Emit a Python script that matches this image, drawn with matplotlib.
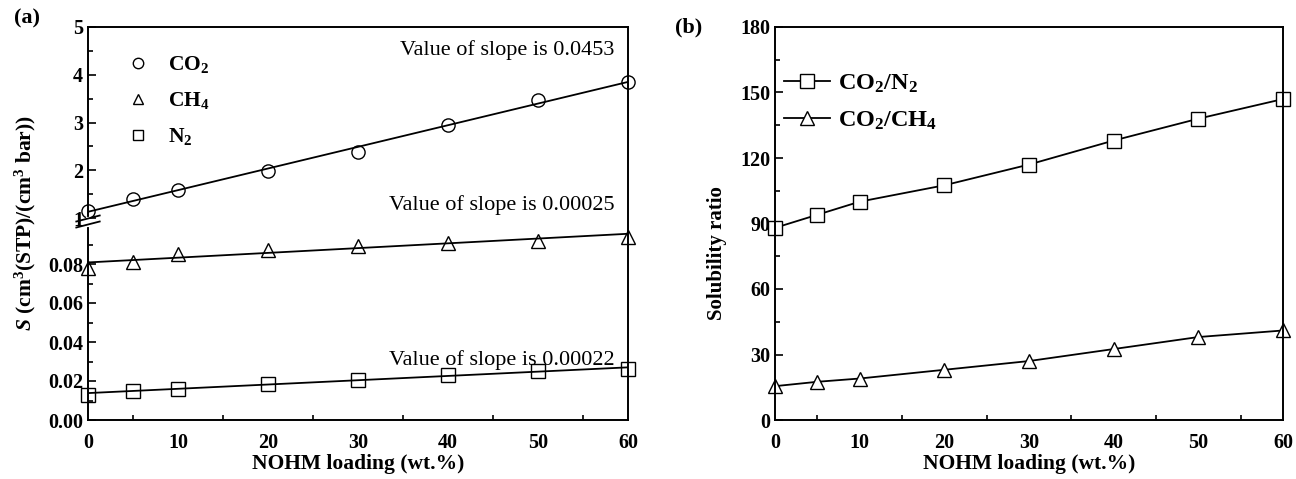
import numpy as np
import matplotlib
matplotlib.use("Agg")
import matplotlib.pyplot as plt
from matplotlib.scale import FuncScale
from matplotlib.ticker import FixedLocator, FixedFormatter
from matplotlib.lines import Line2D

plt.rcParams['font.family'] = ['Liberation Serif']
plt.rcParams['mathtext.fontset'] = 'custom'
plt.rcParams['mathtext.rm'] = 'Liberation Serif:bold'
plt.rcParams['mathtext.bf'] = 'Liberation Serif:bold'
plt.rcParams['mathtext.it'] = 'Liberation Serif:italic:bold'

# ---- data ----
loading = [0, 5, 10, 20, 30, 40, 50, 60]
s_co2 = [1.14, 1.39, 1.58, 1.99, 2.38, 2.95, 3.48, 3.85]
s_ch4 = [0.078, 0.081, 0.085, 0.087, 0.089, 0.091, 0.092, 0.094]
s_n2 = [0.0130, 0.0148, 0.0160, 0.0184, 0.0204, 0.0230, 0.0252, 0.0262]
fit_co2 = [1.13, 3.85]
fit_ch4 = [0.0808, 0.0955]
fit_n2 = [0.0138, 0.0270]
fit_x = [0, 60]
ratio_co2_n2 = [88, 94, 100, 107.5, 117, 128, 138, 147]
ratio_co2_ch4 = [15.5, 17.5, 19, 23, 27, 32.5, 38, 41]
slope_texts = ["Value of slope is 0.0453", "Value of slope is 0.00025", "Value of slope is 0.00022"]

fig = plt.figure(figsize=(12.96, 4.79), dpi=100)

# piecewise broken scale for left panel
ybreak_v = [0.0, 0.1, 1.0, 5.0]
ybreak_p = [0.0, 195.0, 202.0, 393.0]
def fwd(y):
    return np.interp(y, ybreak_v, ybreak_p)
def inv(p):
    return np.interp(p, ybreak_p, ybreak_v)

ax1 = fig.add_axes([88/1296, 1-420/479, 540/1296, 393/479])
ax1.set_yscale(FuncScale(ax1, (fwd, inv)))
ax1.set_xlim(0, 60)
ax1.set_ylim(0, 5)

mk = dict(markersize=9.5, markerfacecolor='none', markeredgecolor='black', markeredgewidth=1.0, linestyle='none')
ax1.plot(loading, s_co2, marker='o', clip_on=False, **mk)
ax1.plot(loading, s_ch4, marker='^', clip_on=False, **mk)
ax1.plot(loading, s_n2, marker='s', clip_on=False, **mk)
for fy in (fit_co2, fit_ch4, fit_n2):
    ax1.plot(fit_x, fy, color='black', lw=1.3)

ax1.yaxis.set_major_locator(FixedLocator([0, 0.02, 0.04, 0.06, 0.08, 1, 2, 3, 4, 5]))
ax1.yaxis.set_major_formatter(FixedFormatter(['0.00', '0.02', '0.04', '0.06', '0.08', '1', '2', '3', '4', '5']))
ax1.yaxis.set_minor_locator(FixedLocator([0.01, 0.03, 0.05, 0.07, 0.09, 1.5, 2.5, 3.5, 4.5]))
ax1.set_xticks([0, 10, 20, 30, 40, 50, 60])
ax1.set_xticks([5, 15, 25, 35, 45, 55], minor=True)

ax1.set_xlabel('NOHM loading (wt.%)', fontsize=15.5, fontweight='bold', labelpad=1)
ax1.set_ylabel(r'$S$ (cm$^3$(STP)/(cm$^3$ bar))', fontsize=15.5, fontweight='bold')
ax1.yaxis.set_label_coords(-0.093, 0.50)

for t, yv in zip(slope_texts, [4.52, 1.27, 0.031]):
    ax1.text(58.5, yv, t, ha='right', va='center', fontsize=16)

# legend (markers only)
lmk = dict(mk)
lmk['markersize'] = 7.5
handles = [Line2D([], [], marker=m, **lmk) for m in ('o', '^', 's')]
ax1.legend(handles, [r'CO$_2$', r'CH$_4$', r'N$_2$'], loc='upper left', bbox_to_anchor=(0.025, 0.98),
           frameon=False, handlelength=1.6, handletextpad=0.6, labelspacing=0.7,
           prop={'weight': 'bold', 'size': 15.5})

# break marks on left spine
p_mid = fwd(0.55)
ax1.plot([0, 0], [inv(p_mid - 3), inv(p_mid + 3)], color='white', lw=3, clip_on=False, zorder=5)
for off in (-3.0, 3.0):
    ax1.plot([-1.3, 1.3], [inv(p_mid + off - 3), inv(p_mid + off + 3)], color='black', lw=1.3,
             clip_on=False, zorder=6)

fig.text(14/1296, 1-18/479, '(a)', fontsize=16, fontweight='bold', va='center')

# ---- right panel ----
ax2 = fig.add_axes([775/1296, 1-420/479, 508/1296, 393/479])
ax2.set_xlim(0, 60)
ax2.set_ylim(0, 180)
ax2.plot(loading, ratio_co2_n2, color='black', lw=1.3, marker='s', markersize=9.5, markerfacecolor='white',
         markeredgecolor='black', markeredgewidth=1.0, clip_on=False, label=r'CO$_2$/N$_2$')
ax2.plot(loading, ratio_co2_ch4, color='black', lw=1.3, marker='^', markersize=9.5, markerfacecolor='white',
         markeredgecolor='black', markeredgewidth=1.0, clip_on=False, label=r'CO$_2$/CH$_4$')
ax2.set_yticks([0, 30, 60, 90, 120, 150, 180])
ax2.set_yticks([15, 45, 75, 105, 135, 165], minor=True)
ax2.set_xticks([0, 10, 20, 30, 40, 50, 60])
ax2.set_xticks([5, 15, 25, 35, 45, 55], minor=True)
ax2.set_xlabel('NOHM loading (wt.%)', fontsize=15.5, fontweight='bold', labelpad=1)
ax2.set_ylabel('Solubility ratio', fontsize=15, fontweight='bold')
ax2.yaxis.set_label_coords(-0.094, 0.425)
ax2.legend(loc='upper left', bbox_to_anchor=(-0.025, 0.94), frameon=False, handlelength=1.9, handletextpad=0.3,
           labelspacing=0.6, prop={'weight': 'bold', 'size': 17.5})
fig.text(675/1296, 1-27/479, '(b)', fontsize=16, fontweight='bold', va='center')

for ax in (ax1, ax2):
    for sp in ax.spines.values():
        sp.set_linewidth(1.4)
    ax.tick_params(which='both', direction='in', top=False, right=False, width=1.2, labelsize=14.5)
    ax.tick_params(which='major', length=6)
    ax.tick_params(which='minor', length=3.5)
    ax.tick_params(axis='x', which='major', length=0, pad=9)
    for lab in ax.get_xticklabels() + ax.get_yticklabels():
        lab.set_fontweight('bold')

fig.savefig('out.png', dpi=100)
